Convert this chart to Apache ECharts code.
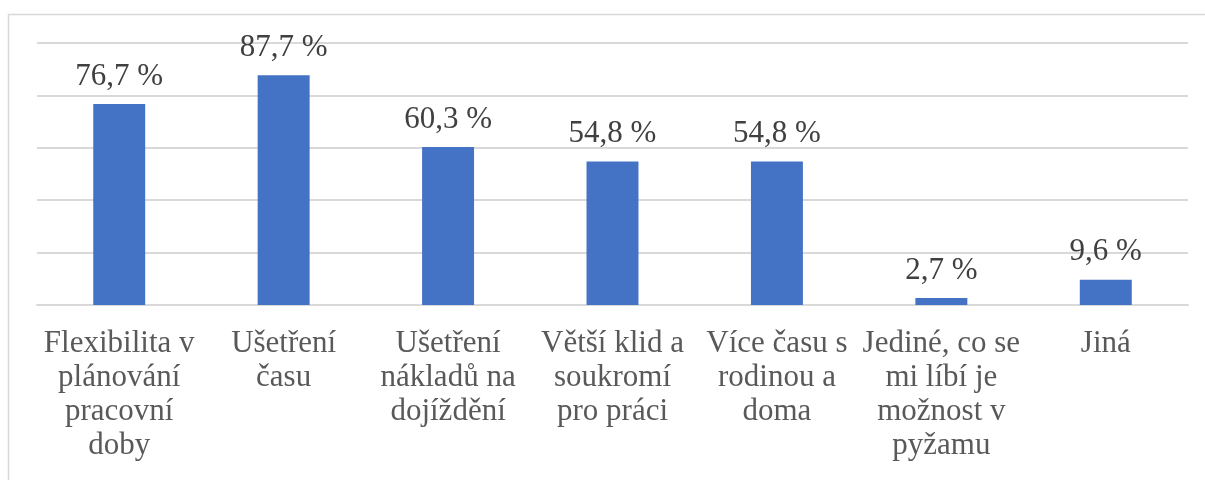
<!DOCTYPE html>
<html>
<head>
<meta charset="utf-8">
<script src="https://cdn.jsdelivr.net/npm/echarts@6/dist/echarts.min.js"></script>
<style>
  html, body { margin: 0; padding: 0; background: #fff; }
  #chart { width: 1205px; height: 480px; }
</style>
</head>
<body>
<div id="chart"></div>
<script>
const categories = [
  'Flexibilita v\nplánování\npracovní\ndoby',
  'Ušetření\nčasu',
  'Ušetření\nnákladů na\ndojíždění',
  'Větší klid a\nsoukromí\npro práci',
  'Více času s\nrodinou a\ndoma',
  'Jediné, co se\nmi líbí je\nmožnost v\npyžamu',
  'Jiná'
];
const shares = [76.7, 87.7, 60.3, 54.8, 54.8, 2.7, 9.6];

const font = '"Liberation Serif", "Times New Roman", serif';
const chart = echarts.init(document.getElementById('chart'), null, { renderer: 'canvas' });

chart.setOption({
  animation: false,
  grid: { left: 37, right: 17, top: 43, bottom: 175 },
  graphic: [{
    type: 'rect',
    shape: { x: 8.5, y: 14.5, width: 1400, height: 700 },
    style: { fill: 'none', stroke: '#d9d9d9', lineWidth: 1.5 },
    silent: true
  }],
  xAxis: {
    type: 'category',
    data: categories,
    axisLine: { lineStyle: { color: '#d9d9d9', width: 2 } },
    axisTick: { show: false },
    axisLabel: {
      interval: 0,
      margin: 22,
      color: '#595959',
      fontFamily: font,
      fontSize: 31,
      lineHeight: 34
    }
  },
  yAxis: {
    type: 'value',
    min: 0,
    max: 100,
    interval: 20,
    axisLabel: { show: false },
    axisLine: { show: false },
    axisTick: { show: false },
    splitLine: { lineStyle: { color: '#d9d9d9', width: 2 } }
  },
  series: [{
    type: 'bar',
    data: shares,
    barWidth: '31.6%',
    itemStyle: { color: '#4472c4' },
    label: {
      show: true,
      position: 'top',
      distance: 12,
      color: '#404040',
      fontFamily: font,
      fontSize: 31,
      formatter: (p) => p.value.toFixed(1).replace('.', ',') + ' %'
    }
  }]
});
</script>
</body>
</html>
